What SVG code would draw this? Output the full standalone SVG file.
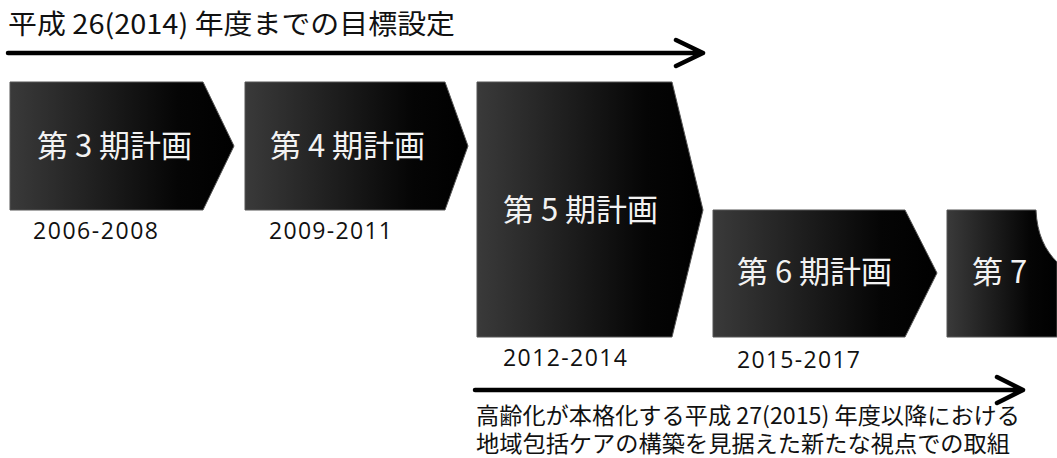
<svg xmlns="http://www.w3.org/2000/svg" width="1057" height="458" viewBox="0 0 1057 458">
<style>
.t{font-family:"Noto Sans CJK JP","Noto Sans",sans-serif;fill:#111}
.w{font-family:"Noto Sans CJK JP","Noto Sans",sans-serif;fill:#f2f2f2;font-size:31px}
.d{font-family:"Open Sans","Noto Sans",sans-serif;fill:#111;font-size:23px}
.box{fill:url(#g);stroke:#555;stroke-width:1}
.ln{stroke:#000;stroke-width:4.5;fill:none;stroke-linecap:round;stroke-linejoin:round}
</style>
<defs>
<linearGradient id="g" x1="0" y1="0" x2="1" y2="0">
<stop offset="0" stop-color="#3a3a3a"/>
<stop offset="0.75" stop-color="#050505"/>
<stop offset="1" stop-color="#000"/>
</linearGradient>
</defs>
<rect width="1057" height="458" fill="#fff"/>
<text class="t" x="8" y="34" font-size="27" textLength="447" lengthAdjust="spacingAndGlyphs">平成 26(2014) 年度までの目標設定</text>
<g id="connectors">
<path class="ln" d="M8,53 H703 M676,40 L703,53 L676,66"/>
<path class="ln" d="M475,390 H1023 M997,377 L1023,390 L997,403"/>
</g>
<g id="p3">
<path class="box" d="M10,82 H203 L234,146 L203,210 H10 Z"/>
<text class="w" x="37" y="157">第 3 期計画</text>
<text class="d" x="33" y="239" textLength="125">2006-2008</text>
</g>
<g id="p4">
<path class="box" d="M245,82 H445 L468,146 L445,210 H245 Z"/>
<text class="w" x="270" y="157">第 4 期計画</text>
<text class="d" x="269" y="239" textLength="123">2009-2011</text>
</g>
<g id="p5">
<path class="box" d="M477,82 H672 L703,210 L672,337 H477 Z"/>
<text class="w" x="503" y="221">第 5 期計画</text>
<text class="d" x="503" y="366" textLength="124">2012-2014</text>
</g>
<g id="p6">
<path class="box" d="M713,210 H905 L937,273 L905,337 H713 Z"/>
<text class="w" x="737" y="283">第 6 期計画</text>
<text class="d" x="737" y="368" textLength="123">2015-2017</text>
</g>
<g id="p7">
<path class="box" d="M947,210 H1036 C1037,234 1045,250 1057,262 V337 H947 Z"/>
<text class="w" x="972" y="283">第 7</text>
</g>
<text class="t" x="476" y="424" font-size="23" textLength="544" lengthAdjust="spacingAndGlyphs">高齢化が本格化する平成 27(2015) 年度以降における</text>
<text class="t" x="476" y="452" font-size="23" textLength="534" lengthAdjust="spacingAndGlyphs">地域包括ケアの構築を見据えた新たな視点での取組</text>
</svg>
